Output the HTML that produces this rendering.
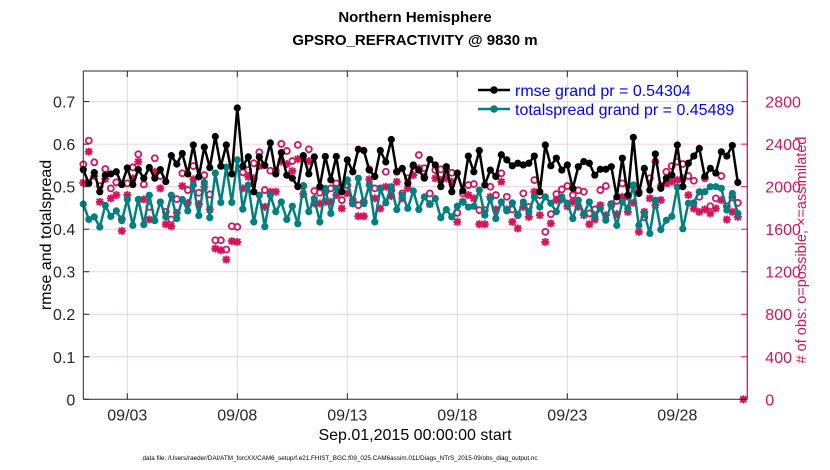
<!DOCTYPE html>
<html><head><meta charset="utf-8"><style>
body{margin:0;background:#fff;}
svg{display:block;font-family:"Liberation Sans",sans-serif;}
</style></head><body>
<svg id="chart" width="830" height="470" viewBox="0 0 830 470">
<text x="415" y="22" text-anchor="middle" font-size="15" font-weight="bold">Northern Hemisphere</text>
<text x="415" y="45" text-anchor="middle" font-size="15" font-weight="bold">GPSRO_REFRACTIVITY @ 9830 m</text>
<g id="grid"></g><g id="marks"></g><g id="axes"></g>
<text transform="translate(51,235) rotate(-90)" text-anchor="middle" font-size="16">rmse and totalspread</text>
<text transform="translate(806,250) rotate(-90)" text-anchor="middle" font-size="14.5" fill="#d4145a"># of obs: o=possible; ×=assimilated</text>
<text x="415" y="440" text-anchor="middle" font-size="16">Sep.01,2015 00:00:00 start</text>
<text x="340" y="460" text-anchor="middle" font-size="6.3">data file: /Users/raeder/DAI/ATM_forcXX/CAM6_setup/f.e21.FHIST_BGC.f09_025.CAM6assim.011/Diags_NTrS_2015-09/obs_diag_output.nc</text>
<g>
<line x1="478" y1="90" x2="510" y2="90" stroke="#000" stroke-width="2.5"/><circle cx="494" cy="90" r="3.8" fill="#000"/>
<text x="515" y="96" font-size="16" fill="#0000ff">rmse grand pr = 0.54304</text>
<line x1="478" y1="109" x2="510" y2="109" stroke="#008080" stroke-width="2.5"/><circle cx="494" cy="109" r="3.8" fill="#008080"/>
<text x="515" y="115" font-size="16" fill="#0000ff">totalspread grand pr = 0.45489</text>
</g>
</svg>
<script>
const rmse=[0.54,0.508,0.533,0.488,0.527,0.53,0.535,0.505,0.544,0.505,0.54,0.52,0.545,0.52,0.54,0.512,0.573,0.553,0.578,0.53,0.598,0.523,0.593,0.545,0.618,0.548,0.598,0.53,0.685,0.548,0.57,0.488,0.57,0.55,0.603,0.53,0.58,0.527,0.52,0.5,0.573,0.53,0.57,0.5,
0.571,0.516,0.571,0.488,0.563,0.535,0.588,0.585,0.539,0.524,0.585,0.558,0.611,0.535,0.543,0.508,0.551,0.539,0.52,0.564,0.551,0.5,0.547,0.488,0.532,0.49,0.572,0.535,0.585,0.504,0.539,0.524,0.575,0.563,0.549,0.555,0.551,0.555,0.572,0.488,
0.598,0.549,0.567,0.539,0.551,0.496,0.547,0.559,0.555,0.527,0.541,0.541,0.547,0.476,0.567,0.480,0.616,0.484,0.543,0.492,0.577,0.496,0.520,0.527,0.598,0.5,0.555,0.572,0.590,0.524,0.543,0.532,0.582,0.572,0.597,0.51];
const spread=[0.459,0.423,0.429,0.405,0.456,0.43,0.443,0.42,0.47,0.409,0.47,0.411,0.48,0.42,0.464,0.429,0.48,0.425,0.47,0.443,0.504,0.432,0.51,0.427,0.532,0.463,0.546,0.463,0.563,0.447,0.504,0.417,0.48,0.406,0.48,0.441,0.464,0.423,0.454,0.413,0.502,0.441,0.472,0.417,
0.496,0.437,0.496,0.488,0.516,0.460,0.520,0.460,0.504,0.417,0.496,0.462,0.5,0.446,0.480,0.449,0.490,0.446,0.476,0.459,0.472,0.427,0.446,0.429,0.454,0.464,0.452,0.454,0.492,0.433,0.472,0.425,0.464,0.443,0.462,0.433,0.464,0.441,0.476,0.452,
0.476,0.461,0.441,0.476,0.461,0.425,0.468,0.437,0.464,0.429,0.449,0.421,0.459,0.409,0.464,0.449,0.504,0.409,0.437,0.390,0.468,0.399,0.421,0.430,0.499,0.401,0.461,0.462,0.488,0.488,0.5,0.5,0.496,0.445,0.484,0.437];
const possible=[2210,2433,2229,2006,2166,1984,2041,1694,2031,2182,2305,2022,1810,2267,2100,1763,1691,1883,2126,1968,2194,1943,2109,1927,1496,1496,1409,1628,1622,2135,2157,2220,2324,1968,2150,2150,2402,2336,2241,2393,2006,2352,1959,1943,
1952,1984,2031,1874,2015,1874,1826,1857,2163,1984,1984,2140,1968,2140,1937,2079,2194,2298,2173,1937,2157,2163,2157,2131,1754,1937,2015,2025,1779,1779,1999,1921,2126,1905,1786,1732,1937,1810,2062,1921,1575,
1742,1930,1975,2006,1921,1965,1952,1748,1786,1968,2006,1826,1867,2031,1905,2006,1952,1711,2079,2235,2006,2140,2194,2235,2213,2100,2056,1905,2079,1816,1890,2100,1816,1899,1848,0];
const assimilated=[2037,2329,2100,1857,2072,1890,1921,1584,1921,2079,2235,1880,1691,2140,1984,1647,1628,1754,2006,1848,2069,1836,1999,1786,1418,1402,1314,1487,1480,1984,2093,2079,2194,1810,1952,1952,2235,2213,2147,2260,1930,2241,1842,1842,
1857,1857,1921,1795,1937,1842,1722,1722,2069,1890,1795,1999,1911,2046,1890,1984,2109,2173,2093,1836,2079,2062,2079,2046,1669,1857,1921,1890,1647,1647,1905,1786,2046,1786,1669,1607,1810,1716,1952,1732,1480,
1654,1874,1880,1816,1857,1810,1732,1647,1691,1826,1732,1836,1742,1905,1763,1848,1575,1763,1890,1826,1874,2031,2046,2062,2079,1921,1795,1763,1786,1748,1795,1874,1691,1763,1716,0];
const yTicks=[0,0.1,0.2,0.3,0.4,0.5,0.6,0.7];
const y2Ticks=[0,400,800,1200,1600,2000,2400,2800];
const xTickDays=[2,7,12,17,22,27];
const xTickLabels=["09/03","09/08","09/13","09/18","09/23","09/28"];
const stepDays=0.25;

const L=83.3,R=747.3,T=71,B=399.3,XMAX=30.18,YMAX=0.772,Y2MAX=YMAX*4000;
const NS='http://www.w3.org/2000/svg';
const xS=d=>L+d/XMAX*(R-L);
const yS=v=>B-v/YMAX*(B-T);
const y2S=v=>B-v/Y2MAX*(B-T);
function mk(tag,attrs,parent){const e=document.createElementNS(NS,tag);for(const k in attrs)e.setAttribute(k,attrs[k]);parent.appendChild(e);return e;}
const grid=document.getElementById('grid'),marks=document.getElementById('marks'),axes=document.getElementById('axes');
const pink='#d4145a';
mk('rect',{x:L,y:T,width:R-L,height:B-T,fill:'#fff'},grid);
yTicks.forEach(v=>{if(v>0){const g=mk('line',{x1:L,x2:R,y1:yS(v),y2:yS(v),stroke:'#f3cfdc','stroke-width':1},grid);

}
const t=mk('text',{x:L-8,y:yS(v)+6,'text-anchor':'end','font-size':16,fill:'#262626'},axes);t.textContent=v===0?'0':v.toFixed(1);


mk('line',{x1:L,x2:L+6,y1:yS(v),y2:yS(v),stroke:'#262626'},axes);});
y2Ticks.forEach(v=>{const t=mk('text',{x:R+18,y:y2S(v)+6,'font-size':16,fill:pink},axes);t.textContent=v;


mk('line',{x1:R-6,x2:R,y1:y2S(v),y2:y2S(v),stroke:pink},axes);});
xTickDays.forEach((d,i)=>{const g=mk('line',{x1:xS(d),x2:xS(d),y1:T,y2:B,stroke:'#dcdcdc'},grid);


mk('line',{x1:xS(d),x2:xS(d),y1:B,y2:B-6,stroke:'#262626'},axes);mk('line',{x1:xS(d),x2:xS(d),y1:T,y2:T+6,stroke:'#262626'},axes);
const t=mk('text',{x:xS(d),y:B+21,'text-anchor':'middle','font-size':16,fill:'#262626'},axes);t.textContent=xTickLabels[i];

});
mk('line',{x1:L,x2:R,y1:T,y2:T,stroke:'#262626'},axes);
mk('line',{x1:L,x2:R,y1:B,y2:B,stroke:'#262626'},axes);
mk('line',{x1:L,x2:L,y1:T,y2:B,stroke:'#262626'},axes);
mk('line',{x1:R,x2:R,y1:T,y2:B,stroke:pink,'stroke-width':1.3},axes);
possible.forEach((v,i)=>{const x=Math.min(xS(i*stepDays),R);
if(v>0){const c=mk('circle',{cx:x,cy:y2S(v),r:3,fill:'none',stroke:pink,'stroke-width':1.8},marks);

}});
assimilated.forEach((v,i)=>{const x=Math.min(xS(i*stepDays),R),y=y2S(v);
const g=mk('g',{stroke:pink,'stroke-width':2},marks);


const s=4;mk('line',{x1:x-s,x2:x+s,y1:y,y2:y},g);mk('line',{x1:x,x2:x,y1:y-s,y2:y+s},g);
mk('line',{x1:x-3,x2:x+3,y1:y-3,y2:y+3},g);mk('line',{x1:x-3,x2:x+3,y1:y+3,y2:y-3},g);});
function series(arr,color,name){
const pts=arr.map((v,i)=>xS(i*stepDays).toFixed(1)+','+yS(v).toFixed(1)).join(' ');
const pl=mk('polyline',{points:pts,fill:'none',stroke:color,'stroke-width':2.5,'stroke-linejoin':'round'},marks);


arr.forEach((v,i)=>{const c=mk('circle',{cx:xS(i*stepDays),cy:yS(v),r:3.6,fill:color},marks);

});}
series(spread,'#008080','totalspread');
series(rmse,'#000000','rmse');
</script>
</body></html>
